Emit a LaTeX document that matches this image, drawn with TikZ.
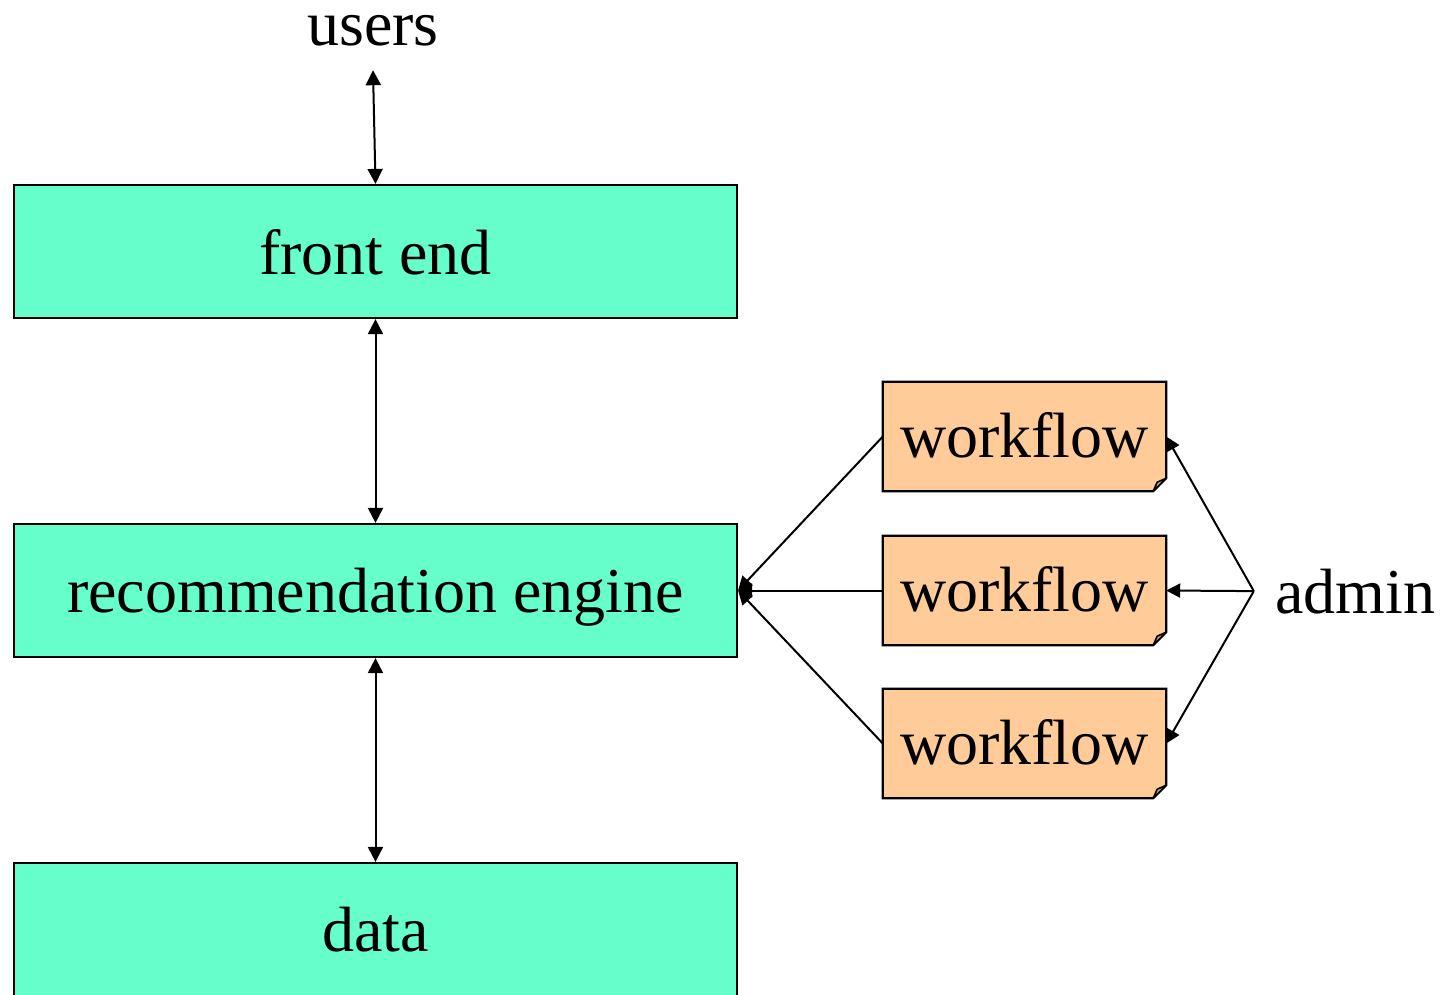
\documentclass[tikz,border=0pt]{standalone}
\usepackage{fontspec}
\setmainfont{Liberation Serif}
\usetikzlibrary{arrows.meta}
\definecolor{tealbox}{HTML}{66FFCC}
\definecolor{peach}{HTML}{FFCC99}
\definecolor{peachfold}{HTML}{CCA37A}
\tikzset{
  every node/.style={font=\fontsize{64}{70}\selectfont},
  block/.style={draw, line width=2.2pt, fill=tealbox, minimum width=723pt,
    minimum height=133pt, inner sep=0pt, text depth=0pt},
  wfnode/.style={minimum width=283pt, minimum height=109pt, inner sep=0pt,
    text depth=0pt, yshift=1.5pt},
  wfshape/.style={draw, line width=2.2pt, fill=peach, line join=miter},
  wffold/.style={draw, line width=1.6pt, fill=peachfold, line join=round},
  link/.style={line width=2pt, {Triangle[length=15pt,width=15pt]}-{Triangle[length=15pt,width=15pt]}},
  feed/.style={line width=2pt, -{Triangle[length=14pt,width=14pt]}},
}
\begin{document}
\begin{tikzpicture}[x=1pt,y=-1pt]
  \useasboundingbox (0,0) rectangle (1451,994);
  \clip (0,0) rectangle (1451,994);

  % main stack
  \node[block] (fe)   at (375.5,251.5) {front end};
  \node[block] (rec)  at (375.5,590.5) {recommendation engine};
  \node[block] (data) at (375.5,929.5) {data};

  % outside actors
  \node[anchor=base, inner sep=0pt, text height=30pt, text depth=25pt]
    (users) at (373,45) {users};
  \node[anchor=base, inner xsep=21pt, inner ysep=0pt] (admin) at (1355,613) {admin};

  % workflow documents (folded lower-right corner)
  \foreach \n/\y in {w1/436.5, w2/590.5, w3/743.5}
    \coordinate (\n c) at (1024.5,\y);
  \foreach \n in {w1,w2,w3} {
    \node[wfnode, yshift=-1.5pt] (\n) at (\n c) {};
    \path[wfshape] (\n.north west) -- (\n.north east)
      -- ([yshift=13pt]\n.south east) -- ([xshift=-13pt]\n.south east)
      -- (\n.south west) -- cycle;
    \path[wffold] ([yshift=13pt]\n.south east) -- ([xshift=-13pt]\n.south east)
      -- ([xshift=-9pt,yshift=9pt]\n.south east) -- cycle;
    \node[wfnode] at (\n c) {workflow};
  }

  % connectors
  \draw[link] (users.south) -- (fe.north);
  \draw[link] (fe.south) -- (rec.north);
  \draw[link] (rec.south) -- (data.north);

  \draw[feed] (w1.west) -- (rec.east);
  \draw[feed] (w2.west) -- (rec.east);
  \draw[feed] (w3.west) -- (rec.east);

  \draw[feed] (admin.west) -- (w1.east);
  \draw[feed] (admin.west) -- (w2.east);
  \draw[feed] (admin.west) -- (w3.east);
\end{tikzpicture}
\end{document}
